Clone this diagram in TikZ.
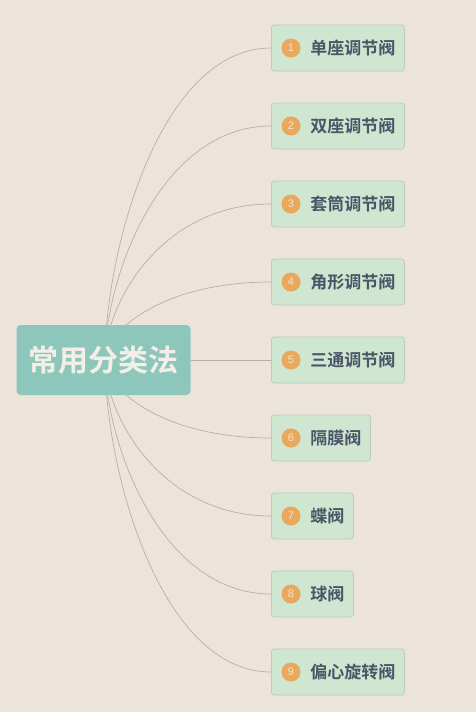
\documentclass[tikz,border=0pt]{standalone}
\usepackage{fontspec}
\setmainfont{Liberation Sans}
\newfontfamily\cjkbold[BoldFont={Noto Sans CJK SC Bold}]{Noto Sans CJK SC}
\usetikzlibrary{calc}
\definecolor{bgc}{HTML}{ECE4DB}
\definecolor{rootc}{HTML}{8DC7BB}
\definecolor{roottext}{HTML}{F3EFE8}
\definecolor{boxc}{HTML}{CFE6D1}
\definecolor{boxline}{HTML}{BACDBD}
\definecolor{boxtext}{HTML}{4A5566}
\definecolor{numc}{HTML}{E9A85C}
\definecolor{numtext}{HTML}{F7E4C8}
\definecolor{linec}{HTML}{B9AEA5}
\pgfdeclarelayer{bglayer}
\pgfdeclarelayer{lines}
\pgfsetlayers{bglayer,lines,main}
\tikzset{
  rootbox/.style={fill=rootc, rounded corners=4pt, minimum width=174pt, minimum height=70pt,
    inner sep=0pt, text=roottext, font=\cjkbold\bfseries\fontsize{30}{30}\selectfont},
  childbox/.style={fill=boxc, draw=boxline, line width=0.8pt, rounded corners=3pt, anchor=west,
    minimum height=46pt, inner xsep=9pt, inner ysep=0pt, text=boxtext,
    font=\cjkbold\bfseries\fontsize{17}{17}\selectfont},
  numdot/.style={circle, fill=numc, minimum size=19pt, inner sep=0pt, text=numtext,
    font=\fontsize{11}{11}\selectfont},
  conn/.style={draw=linec, line width=0.7pt},
}
\newcommand{\childitem}[3]{%
  \node[childbox] (c#1) at (271,#2) {\hspace*{30pt}#3};
  \node[numdot] (n#1) at (291,#2) {#1};
}
\begin{document}
\begin{tikzpicture}[x=1pt,y=-1pt]
\useasboundingbox (0,0) rectangle (476,712);
\begin{pgfonlayer}{bglayer}
\fill[bgc] (0,0) rectangle (476,712);
\end{pgfonlayer}
\node[rootbox] (root) at (103.5,360) {常用分类法};
\coordinate (hub) at (105,360);
\childitem{1}{48}{单座调节阀}
\childitem{2}{126}{双座调节阀}
\childitem{3}{204}{套筒调节阀}
\childitem{4}{282}{角形调节阀}
\childitem{5}{360}{三通调节阀}
\childitem{6}{438}{隔膜阀}
\childitem{7}{516}{蝶阀}
\childitem{8}{594}{球阀}
\childitem{9}{672}{偏心旋转阀}
\begin{pgfonlayer}{lines}
\foreach \i in {1,2,3,4,6,7,8,9}{
  \draw[conn] (hub) .. controls ($(hub)!0.35!(hub |- c\i.west)$) and ($(c\i.west)+(-111,0)$) .. (c\i.west);
}
\draw[conn] (root.east) -- (c5.west);
\end{pgfonlayer}
\end{tikzpicture}
\end{document}
